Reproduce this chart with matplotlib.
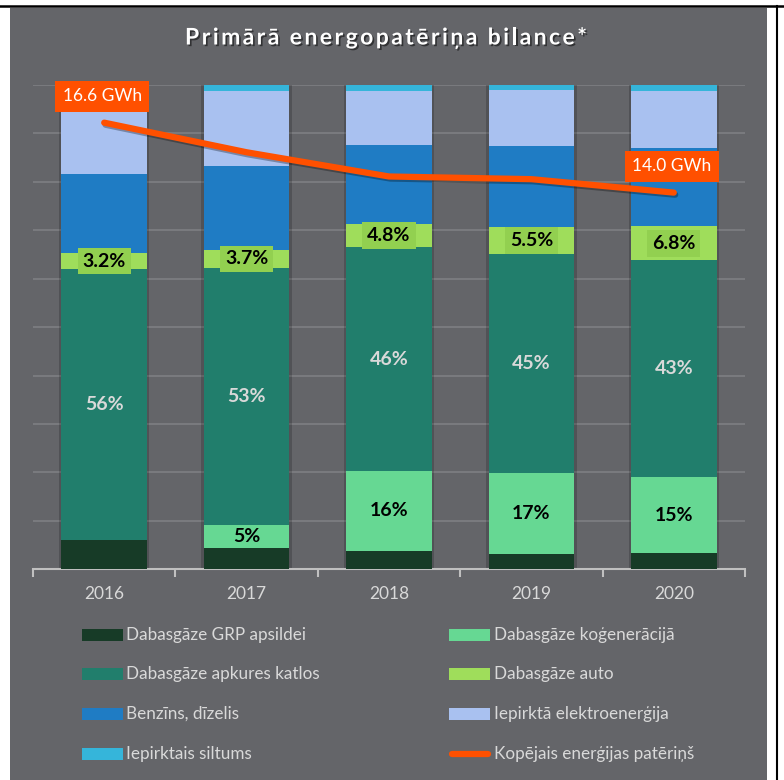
import matplotlib
matplotlib.use("Agg")
import matplotlib.pyplot as plt
import matplotlib.patheffects as pe
from matplotlib.patches import Rectangle
from matplotlib.lines import Line2D
import numpy as np

# ---------------- data ----------------
years = ["2016", "2017", "2018", "2019", "2020"]
series_names = ["Dabasgāze GRP apsildei", "Dabasgāze koģenerācijā",
                "Dabasgāze apkures katlos", "Dabasgāze auto",
                "Benzīns, dīzelis", "Iepirktā elektroenerģija",
                "Iepirktais siltums"]
grp = [6.1, 4.5, 3.8, 3.2, 3.3]
kogeneracija = [0.0, 4.6, 16.5, 16.7, 15.7]
katlos = [55.9, 53.1, 46.2, 45.2, 44.8]
auto = [3.3, 3.8, 4.8, 5.5, 7.0]
benzins = [16.3, 17.2, 16.3, 16.9, 16.1]
elektro = [17.2, 15.5, 11.1, 11.4, 11.8]
siltums = [1.2, 1.4, 1.4, 1.2, 1.2]
total_gwh = [16.6, 15.5, 14.6, 14.5, 14.0]
line_name = "Kopējais enerģijas patēriņš"
title = "Primārā energopatēriņa bilance*"

katlos_labels = ["56%", "53%", "46%", "45%", "43%"]
kog_labels = ["", "5%", "16%", "17%", "15%"]
auto_labels = ["3.2%", "3.7%", "4.8%", "5.5%", "6.8%"]
gwh_labels = {0: "16.6 GWh", 4: "14.0 GWh"}

colors = ["#173b27", "#66d893", "#217e6c", "#9fdd5b", "#1f7cc4", "#a9c1f0", "#35b5da"]
line_color = "#ff5000"
panel = "#646569"
light = "#d9d9d9"

FONT = ["Lato", "DejaVu Sans"]
plt.rcParams["font.family"] = FONT

W, H = 784, 780
fig = plt.figure(figsize=(W / 100, H / 100), dpi=100, facecolor="white")

def fx(px):
    return px / W

def fy(py):
    return 1 - py / H

# background panel & frame lines
fig.patches.append(Rectangle((fx(10), 0), fx(767) - fx(10), fy(8), transform=fig.transFigure,
                             facecolor=panel, edgecolor="none", zorder=-10))
fig.lines.append(Line2D([0, 1], [fy(6), fy(6)], transform=fig.transFigure, color="black", lw=1.8))
fig.lines.append(Line2D([fx(777), fx(777)], [0, fy(6)], transform=fig.transFigure, color="black", lw=1.5))

# title with letter spacing (tracked), fitted to the reference width
renderer = fig.canvas.get_renderer()
tkw = dict(color="white", fontsize=16.5, fontweight="bold", va="baseline", ha="left",
           path_effects=[pe.withSimplePatchShadow(offset=(1.2, -1.2), shadow_rgbFace="black", alpha=0.5)])
def char_width(ch):
    if ch == " ":
        t1 = fig.text(0, 0, "n n", **tkw); w1 = t1.get_window_extent(renderer).width; t1.remove()
        t2 = fig.text(0, 0, "nn", **tkw); w2 = t2.get_window_extent(renderer).width; t2.remove()
        return w1 - w2
    t = fig.text(0, 0, ch, **tkw)
    w = t.get_window_extent(renderer).width
    t.remove()
    return w
widths = [char_width(c) for c in title]
target_w = 402.0
gap = (target_w - sum(widths)) / (len(title) - 1)
xpos = 386 - target_w / 2
for c, w in zip(title, widths):
    if c != " ":
        fig.text(fx(xpos), fy(44.5), c, **tkw)
    xpos += w + gap

# axes
ax = fig.add_axes([fx(33), fy(569.3), fx(745) - fx(33), fy(85) - fy(569.3)])
ax.set_facecolor("none")
ax.set_xlim(-0.5, 4.5)
ax.set_ylim(0, 100)
for s in ["top", "right", "left"]:
    ax.spines[s].set_visible(False)
ax.spines["bottom"].set_color("#c0c0c0")
ax.spines["bottom"].set_linewidth(1.5)
ax.set_yticks(np.arange(10, 101, 10))
ax.tick_params(axis="y", length=0, labelleft=False)
ax.yaxis.grid(True, color="#7c7d81", lw=1.3)
ax.set_axisbelow(True)
x = np.arange(len(years))
ax.set_xticks(x)
ax.set_xticklabels(years, color=light, fontsize=12.5)
ax.tick_params(axis="x", which="major", length=0, pad=12)
ax.set_xticks(np.arange(-0.5, 5, 1), minor=True)
ax.tick_params(axis="x", which="minor", length=6, width=1.5, color="#c0c0c0", direction="out")

stack = [grp, kogeneracija, katlos, auto, benzins, elektro, siltums]
bottom = np.zeros(len(years))
bar_w = 0.6
bands = []
for vals, c in zip(stack, colors):
    v = np.array(vals)
    ax.bar(x, v, bar_w, bottom=bottom, color=c, edgecolor="none", zorder=3)
    bands.append((bottom.copy(), v))
    bottom = bottom + v

# soft shadow behind bars
for xi, tot in zip(x, bottom):
    ax.bar(xi, tot, bar_w + 0.035, color="black", alpha=0.18, zorder=2, edgecolor="none")

# labels
b_kog, v_kog = bands[1]
b_kat, v_kat = bands[2]
b_auto, v_auto = bands[3]
for i in range(len(years)):
    ax.text(x[i], b_kat[i] + v_kat[i] / 2, katlos_labels[i], ha="center", va="center",
            color=light, fontsize=14, fontweight="bold", zorder=5)
    if kog_labels[i]:
        ax.text(x[i], b_kog[i] + v_kog[i] / 2, kog_labels[i], ha="center", va="center",
                color="black", fontsize=14, fontweight="bold", zorder=5)
    ax.text(x[i], b_auto[i] + v_auto[i] / 2, auto_labels[i], ha="center", va="center",
            color="black", fontsize=14, fontweight="bold", zorder=5,
            bbox=dict(boxstyle="square,pad=0.25", facecolor="#92d050", edgecolor="none"))

# line on secondary axis
ax2 = ax.twinx()
ax2.set_ylim(0, 18)
ax2.set_xlim(-0.5, 4.5)
ax2.axis("off")
ax2.plot(x, total_gwh, color=line_color, lw=4.5, solid_capstyle="round", solid_joinstyle="round",
         zorder=6, path_effects=[pe.SimpleLineShadow(offset=(1, -1.5), shadow_color="black", alpha=0.3),
                                 pe.Normal()])
for i, txt in gwh_labels.items():
    ax2.annotate(txt, (x[i], total_gwh[i]), xytext=(-1.5, 19), textcoords="offset points",
                 ha="center", va="center", color="white", fontsize=12.5, zorder=7,
                 bbox=dict(boxstyle="square,pad=0.42", facecolor=line_color, edgecolor="none"))

# legend (manual, two columns)
legend_items = [(series_names[0], colors[0], "patch"), (series_names[1], colors[1], "patch"),
                (series_names[2], colors[2], "patch"), (series_names[3], colors[3], "patch"),
                (series_names[4], colors[4], "patch"), (series_names[5], colors[5], "patch"),
                (series_names[6], colors[6], "patch"), (line_name, line_color, "line")]
row_y = [635, 674, 714, 754]
col_x = [81.5, 449]
for k, (name, c, kind) in enumerate(legend_items):
    r, col = divmod(k, 2)
    x0 = col_x[col]
    yc = row_y[r]
    if kind == "patch":
        fig.patches.append(Rectangle((fx(x0), fy(yc + 5.8)), fx(41), 11.6 / H, transform=fig.transFigure,
                                     facecolor=c, edgecolor="none"))
    else:
        fig.lines.append(Line2D([fx(x0 + 3), fx(x0 + 39)], [fy(yc), fy(yc)], transform=fig.transFigure,
                                color=c, lw=4.5, solid_capstyle="round"))
    fig.text(fx(x0 + 45), fy(yc), name, ha="left", va="center", color=light, fontsize=12.3)

fig.savefig("out.png", dpi=100, facecolor="white")
